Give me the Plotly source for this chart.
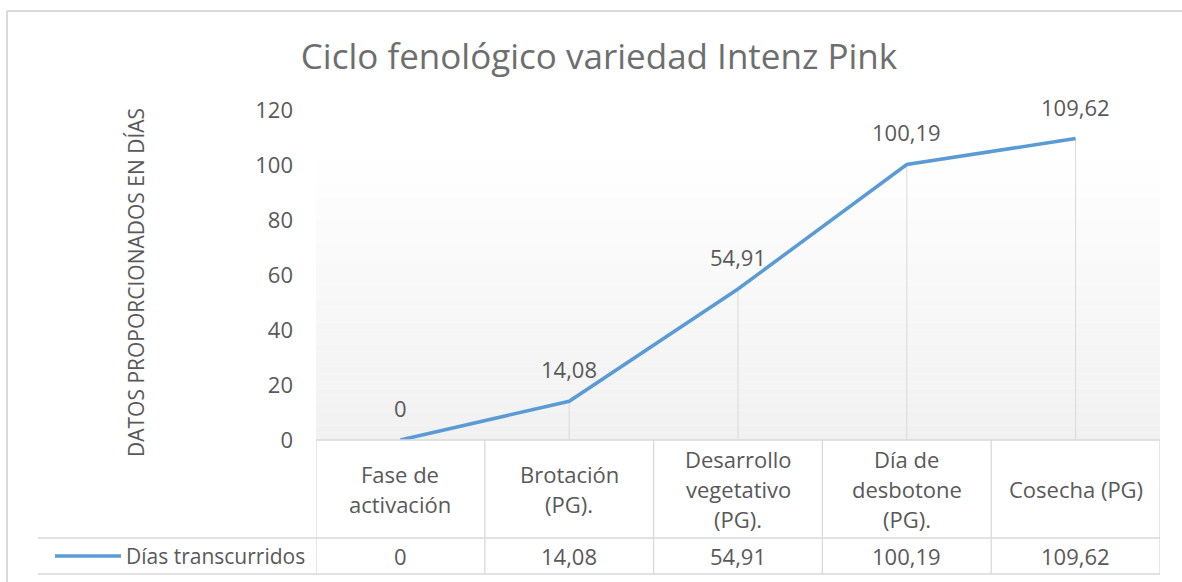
import plotly.graph_objects as go

categories = ["Fase de\nactivación", "Brotación\n(PG).", "Desarrollo\nvegetativo\n(PG).",
              "Día de\ndesbotone\n(PG).", "Cosecha (PG)"]
values = [0, 14.08, 54.91, 100.19, 109.62]
value_labels = ["0", "14,08", "54,91", "100,19", "109,62"]
series_name = "Días transcurridos"
title_text = "Ciclo fenológico variedad Intenz Pink"
y_title = "DATOS PROPORCIONADOS EN DÍAS"
y_ticks = [0, 20, 40, 60, 80, 100, 120]

W, H = 1182, 582
L, R, T, B = 316, 22, 110, 142
PW, PH = W - L - R, H - T - B
FONT = "Open Sans"
TXT = "#595959"
GRID = "#d9d9d9"
BLUE = "#5b9bd5"
FS = 22


def px_x(x):
    return (x - L) / PW


def px_y(y):
    return 1 - (y - T) / PH


xs = list(range(len(categories)))
fig = go.Figure()
fig.add_trace(go.Scatter(x=xs, y=values, mode="lines", name=series_name,
                         line=dict(color=BLUE, width=3.5), showlegend=False,
                         hoverinfo="skip"))

shapes = []
# gradient background of plot area
n = 40
top_val = 107
for k in range(n):
    y0 = top_val * k / n
    y1 = top_val * (k + 1) / n
    f = k / (n - 1)
    c = int(round(241 + (255 - 241) * f))
    shapes.append(dict(type="rect", xref="paper", yref="y", x0=0, x1=1, y0=y0, y1=y1,
                       fillcolor=f"rgb({c},{c},{c})", line=dict(width=0), layer="below"))
# drop lines
for i, v in enumerate(values):
    if v > 0:
        shapes.append(dict(type="line", xref="x", yref="y", x0=i, x1=i, y0=0, y1=v,
                           line=dict(color=GRID, width=1), layer="below"))

# table lines
yt_top, yt_mid, yt_bot = px_y(440), px_y(538), px_y(574)
shapes.append(dict(type="line", xref="paper", yref="paper", x0=0, x1=1, y0=yt_top, y1=yt_top,
                   line=dict(color=GRID, width=1.3)))
for yy in (yt_mid, yt_bot):
    shapes.append(dict(type="line", xref="paper", yref="paper", x0=px_x(38), x1=1, y0=yy, y1=yy,
                       line=dict(color=GRID, width=1.3)))
for i in range(len(categories) + 1):
    shapes.append(dict(type="line", xref="x", yref="paper", x0=i - 0.5, x1=i - 0.5,
                       y0=yt_top, y1=yt_bot, line=dict(color=GRID, width=1.3)))
# legend key
shapes.append(dict(type="line", xref="paper", yref="paper", x0=px_x(55), x1=px_x(121),
                   y0=px_y(556), y1=px_y(556), line=dict(color=BLUE, width=3.5)))
# chart frame
shapes.append(dict(type="line", xref="paper", yref="paper", x0=px_x(7), x1=px_x(1182),
                   y0=px_y(11), y1=px_y(11), line=dict(color=GRID, width=2)))
shapes.append(dict(type="line", xref="paper", yref="paper", x0=px_x(7), x1=px_x(7),
                   y0=px_y(11), y1=px_y(582), line=dict(color=GRID, width=2)))

annotations = []
# data labels
for i, (v, lab) in enumerate(zip(values, value_labels)):
    annotations.append(dict(x=i, y=v, xref="x", yref="y", text=lab, showarrow=False,
                            yshift=32, font=dict(family=FONT, size=FS, color=TXT)))
# header cells
for i, cat in enumerate(categories):
    lines = cat.split("\n")
    nl = len(lines)
    for j, ln in enumerate(lines):
        off = (j - (nl - 1) / 2) * 30
        annotations.append(dict(x=i, y=px_y(489 + off), xref="x", yref="paper", text=ln,
                                showarrow=False, yanchor="middle",
                                font=dict(family=FONT, size=FS, color=TXT)))
# data row
for i, lab in enumerate(value_labels):
    annotations.append(dict(x=i, y=px_y(556), xref="x", yref="paper", text=lab,
                            showarrow=False, yanchor="middle",
                            font=dict(family=FONT, size=FS, color=TXT)))
annotations.append(dict(x=px_x(124), y=px_y(556), xref="paper", yref="paper", text=series_name,
                        showarrow=False, xanchor="left", yanchor="middle",
                        font=dict(family=FONT, size=FS - 1, color=TXT)))
# y title
annotations.append(dict(x=px_x(136), y=px_y(283), xref="paper", yref="paper", text=y_title,
                        showarrow=False, textangle=-90, xanchor="center", yanchor="middle",
                        font=dict(family=FONT, size=21, color=TXT)))

fig.update_layout(
    width=W, height=H,
    margin=dict(l=L, r=R, t=T, b=B),
    paper_bgcolor="white", plot_bgcolor="white",
    title=dict(text=title_text, x=599 / W, y=1 - 57 / H, xref="container", yref="container",
               xanchor="center", yanchor="middle",
               font=dict(family=FONT, size=35, color="#6e6e6e")),
    xaxis=dict(range=[-0.5, len(categories) - 0.5], showticklabels=False, showgrid=False,
               zeroline=False, showline=False, fixedrange=True),
    yaxis=dict(range=[0, 120], tickvals=y_ticks, ticktext=[str(t) for t in y_ticks],
               showgrid=False, zeroline=False, showline=False, ticks="",
               ticklabelstandoff=22,
               tickfont=dict(family=FONT, size=FS, color=TXT)),
    shapes=shapes, annotations=annotations,
)

fig.write_html("out.html", config={"displayModeBar": False},
               post_script="document.body.style.margin='0';")
